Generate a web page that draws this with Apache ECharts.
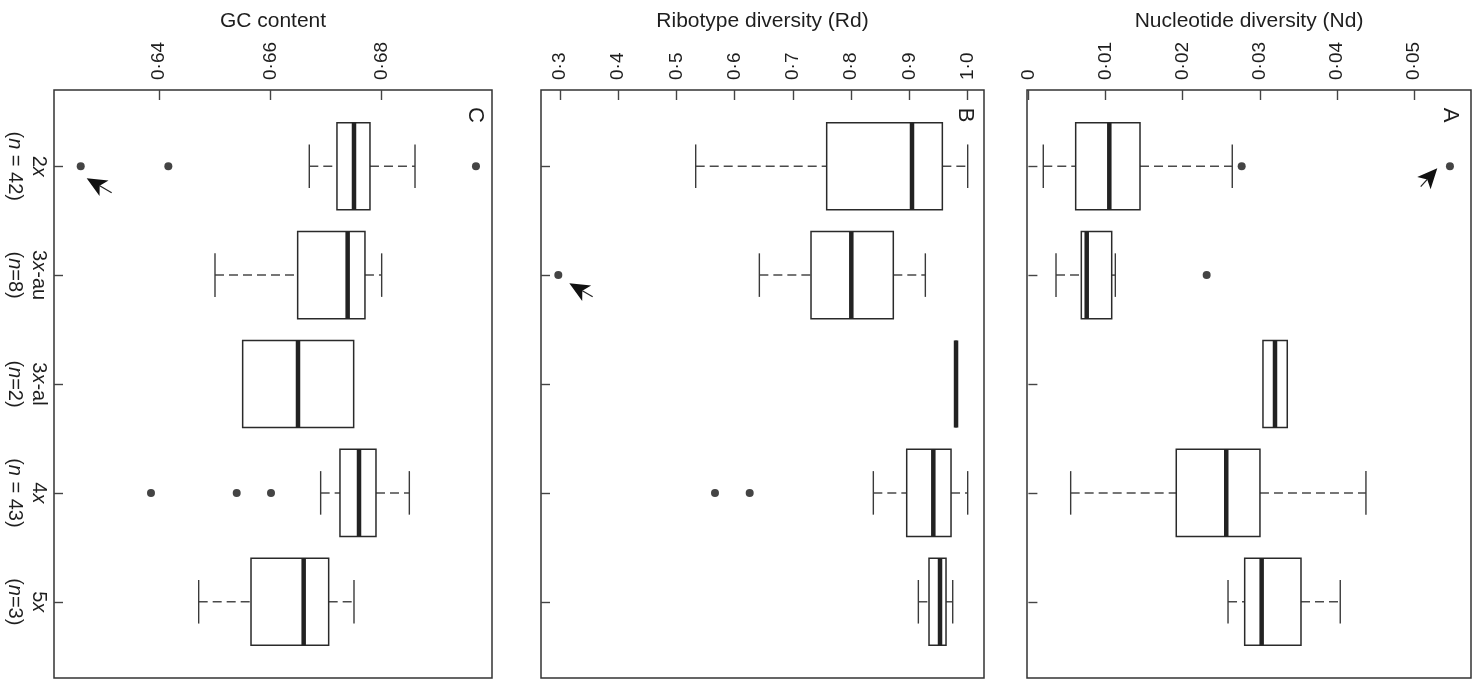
<!DOCTYPE html>
<html><head><meta charset="utf-8">
<script src="https://cdn.jsdelivr.net/npm/echarts@6/dist/echarts.min.js"></script>
<style>html,body{margin:0;padding:0;background:#fff}#chart{width:1476px;height:679px}</style>
</head><body><div id="chart"></div>
<script>
// ---------- data ----------
const categories = ['2x', '3x-au', '3x-al', '4x', '5x'];
const sampleSizes = ['(n = 42)', '(n=8)', '(n=2)', '(n = 43)', '(n=3)'];

// Panel A: Nucleotide diversity (Nd)
const ndLow  = [0.00193, 0.00358, 0.03041, 0.00548, 0.02588];
const ndQ1   = [0.00613, 0.00686, 0.03041, 0.01917, 0.02804];
const ndMed  = [0.01049, 0.00756, 0.03197, 0.02565, 0.03024];
const ndQ3   = [0.01447, 0.01080, 0.03356, 0.03002, 0.03534];
const ndHigh = [0.02643, 0.01127, 0.03356, 0.04376, 0.04043];
const ndOutliers = [[0, 0.02765], [0, 0.05465], [1, 0.02311]];
const ndTicks = [0, 0.01, 0.02, 0.03, 0.04, 0.05];
const ndTickLabels = ['0', '0·01', '0·02', '0·03', '0·04', '0·05'];
const ndArrow = [0.05086, 1.188, 0.05301, 1.019]; // tail value, tail pos, tip value, tip pos

// Panel B: Ribotype diversity (Rd)
const rdLow  = [0.5330, 0.6423, 0.9800, 0.8380, 0.9153];
const rdQ1   = [0.7579, 0.7310, 0.9800, 0.8953, 0.9336];
const rdMed  = [0.9044, 0.8002, 0.9800, 0.9410, 0.9525];
const rdQ3   = [0.9565, 0.8723, 0.9800, 0.9714, 0.9628];
const rdHigh = [1.0000, 0.9273, 0.9800, 1.0000, 0.9743];
const rdOutliers = [[1, 0.2971], [3, 0.5661], [3, 0.6257]];
const rdTicks = [0.3, 0.4, 0.5, 0.6, 0.7, 0.8, 0.9, 1.0];
const rdTickLabels = ['0·3', '0·4', '0·5', '0·6', '0·7', '0·8', '0·9', '1·0'];
const rdArrow = [0.3561, 2.198, 0.3160, 2.075];

// Panel C: GC content
const gcLow  = [0.66700, 0.65006, 0.65503, 0.66904, 0.64713];
const gcQ1   = [0.67197, 0.66491, 0.65503, 0.67251, 0.65653];
const gcMed  = [0.67503, 0.67389, 0.66497, 0.67593, 0.66599];
const gcQ3   = [0.67790, 0.67700, 0.67497, 0.67898, 0.67048];
const gcHigh = [0.68599, 0.68000, 0.67497, 0.68497, 0.67503];
const gcOutliers = [[0, 0.62594], [0, 0.64168], [0, 0.69694], [3, 0.63856], [3, 0.65396], [3, 0.66012]];
const gcTicks = [0.64, 0.66, 0.68];
const gcTickLabels = ['0·64', '0·66', '0·68'];
const gcArrow = [0.63150, 1.243, 0.62701, 1.111];

// ---------- chart ----------
const FONT = '"Liberation Sans", Arial, Helvetica, sans-serif';
const TXT = '#1e1e1e';

const panels = [
  { name: 'Nucleotide diversity (Nd)', letter: 'A', grid: { left: 1027, top: 90, width: 444, height: 588 },
    min: -0.000181, max: 0.05738, low: ndLow, q1: ndQ1, med: ndMed, q3: ndQ3, high: ndHigh,
    outliers: ndOutliers, ticks: ndTicks, tickLabels: ndTickLabels, arrow: ndArrow, letterPos: [1450, 115] },
  { name: 'Ribotype diversity (Rd)', letter: 'B', grid: { left: 541, top: 90, width: 443, height: 588 },
    min: 0.26738, max: 1.02802, low: rdLow, q1: rdQ1, med: rdMed, q3: rdQ3, high: rdHigh,
    outliers: rdOutliers, ticks: rdTicks, tickLabels: rdTickLabels, arrow: rdArrow, letterPos: [965, 115] },
  { name: 'GC content', letter: 'C', grid: { left: 54, top: 90, width: 438, height: 588 },
    min: 0.62114, max: 0.69982, low: gcLow, q1: gcQ1, med: gcMed, q3: gcQ3, high: gcHigh,
    outliers: gcOutliers, ticks: gcTicks, tickLabels: gcTickLabels, arrow: gcArrow, letterPos: [475, 115] }
];

const catPositions = categories.map((c, i) => i + 1);

function catLabel(v) {
  const i = Math.round(v) - 1;
  if (i < 0 || i >= categories.length) return '';
  const c = categories[i].replace('x', '{i|x}');
  const n = sampleSizes[i].replace('n', '{i|n}');
  return c + '\n' + n;
}

function boxRender(params, api) {
  const pos = api.value(0);
  const lo = api.value(1), q1 = api.value(2), md = api.value(3), q3 = api.value(4), hi = api.value(5);
  const c = (v, d) => api.coord([v, pos + d]);
  const children = [];
  const whisk = { stroke: '#4a4a4a', lineWidth: 1.5, lineDash: [9, 5] };
  const staple = { stroke: '#3a3a3a', lineWidth: 1.4 };
  if (lo < q1) {
    const a = c(lo, 0), b = c(q1, 0);
    children.push({ type: 'line', shape: { x1: a[0], y1: a[1], x2: b[0], y2: b[1] }, style: whisk });
    const s1 = c(lo, -0.2), s2 = c(lo, 0.2);
    children.push({ type: 'line', shape: { x1: s1[0], y1: s1[1], x2: s2[0], y2: s2[1] }, style: staple });
  }
  if (hi > q3) {
    const a = c(q3, 0), b = c(hi, 0);
    children.push({ type: 'line', shape: { x1: a[0], y1: a[1], x2: b[0], y2: b[1] }, style: whisk });
    const s1 = c(hi, -0.2), s2 = c(hi, 0.2);
    children.push({ type: 'line', shape: { x1: s1[0], y1: s1[1], x2: s2[0], y2: s2[1] }, style: staple });
  }
  const p1 = c(q1, -0.4), p2 = c(q3, 0.4);
  children.push({ type: 'rect', shape: { x: Math.min(p1[0], p2[0]), y: Math.min(p1[1], p2[1]),
    width: Math.abs(p2[0] - p1[0]), height: Math.abs(p2[1] - p1[1]) },
    style: { fill: '#fff', stroke: '#2a2a2a', lineWidth: 1.5 } });
  const m1 = c(md, -0.4), m2 = c(md, 0.4);
  children.push({ type: 'line', shape: { x1: m1[0], y1: m1[1], x2: m2[0], y2: m2[1] },
    style: { stroke: '#222', lineWidth: 4.5 } });
  return { type: 'group', children };
}

function arrowRender(params, api) {
  const t = api.coord([api.value(0), api.value(1)]);
  const p = api.coord([api.value(2), api.value(3)]);
  const dx = p[0] - t[0], dy = p[1] - t[1];
  const L = Math.sqrt(dx * dx + dy * dy) || 1;
  const ux = dx / L, uy = dy / L, nx = -uy, ny = ux;
  const hl = 20, hw = 9, notch = 15;
  const bx = p[0] - ux * hl, by = p[1] - uy * hl;
  const kx = p[0] - ux * notch, ky = p[1] - uy * notch;
  return { type: 'group', children: [
    { type: 'line', shape: { x1: t[0], y1: t[1], x2: kx, y2: ky }, style: { stroke: '#222', lineWidth: 1.2 } },
    { type: 'polygon', shape: { points: [[p[0], p[1]], [bx + nx * hw, by + ny * hw], [kx, ky], [bx - nx * hw, by - ny * hw]] },
      style: { fill: '#111' } }
  ] };
}

const option = {
  backgroundColor: '#fff',
  animation: false,
  grid: panels.map(p => Object.assign({ show: true, borderColor: '#333', borderWidth: 1.5,
    backgroundColor: 'transparent', containLabel: false, outerBoundsMode: 'none' }, p.grid)),
  xAxis: panels.map((p, i) => ({
    gridIndex: i, type: 'value', position: 'top', min: p.min, max: p.max,
    name: p.name, nameLocation: 'middle', nameGap: 58, nameMoveOverlap: false,
    nameTextStyle: { fontSize: 21, color: TXT, fontFamily: FONT },
    axisLine: { show: false }, splitLine: { show: false },
    axisTick: { show: true, inside: true, length: 10, customValues: p.ticks, lineStyle: { color: '#444', width: 1.4 } },
    axisLabel: { show: true, customValues: p.ticks, rotate: -90, margin: 10, fontSize: 19, color: TXT, fontFamily: FONT,
      formatter: v => { const k = p.ticks.findIndex(t => Math.abs(t - v) < 1e-9); return k >= 0 ? p.tickLabels[k] : ''; } }
  })),
  yAxis: panels.map((p, i) => ({
    gridIndex: i, type: 'value', inverse: true, min: 0.3, max: 5.7,
    axisLine: { show: false }, splitLine: { show: false },
    axisTick: { show: true, inside: true, length: 9, customValues: catPositions, lineStyle: { color: '#444', width: 1.4 } },
    axisLabel: { show: i === 2, customValues: catPositions, rotate: -90, margin: 3, fontSize: 20, color: TXT,
      fontFamily: FONT, lineHeight: 24, formatter: catLabel,
      rich: { i: { fontStyle: 'italic', fontSize: 20, color: TXT, fontFamily: FONT, lineHeight: 24 } } }
  })),
  graphic: panels.map(p => ({
    type: 'text', x: p.letterPos[0], y: p.letterPos[1], rotation: -Math.PI / 2,
    style: { text: p.letter, fontSize: 22, fontFamily: FONT, fill: TXT, align: 'center', verticalAlign: 'middle' }
  })),
  series: []
};

panels.forEach((p, i) => {
  option.series.push({
    type: 'custom', xAxisIndex: i, yAxisIndex: i, renderItem: boxRender,
    encode: { x: [1, 2, 3, 4, 5], y: 0 },
    data: categories.map((c, k) => [k + 1, p.low[k], p.q1[k], p.med[k], p.q3[k], p.high[k]]),
    z: 2
  });
  option.series.push({
    type: 'scatter', xAxisIndex: i, yAxisIndex: i, symbol: 'circle', symbolSize: 8,
    itemStyle: { color: '#151515' },
    data: p.outliers.map(o => [o[1], o[0] + 1]), z: 3
  });
  option.series.push({
    type: 'custom', xAxisIndex: i, yAxisIndex: i, renderItem: arrowRender,
    encode: { x: [0, 2], y: [1, 3] },
    data: [p.arrow], z: 4
  });
});

const chart = echarts.init(document.getElementById('chart'), null, { renderer: 'canvas' });
chart.setOption(option);
</script>
</body></html>
